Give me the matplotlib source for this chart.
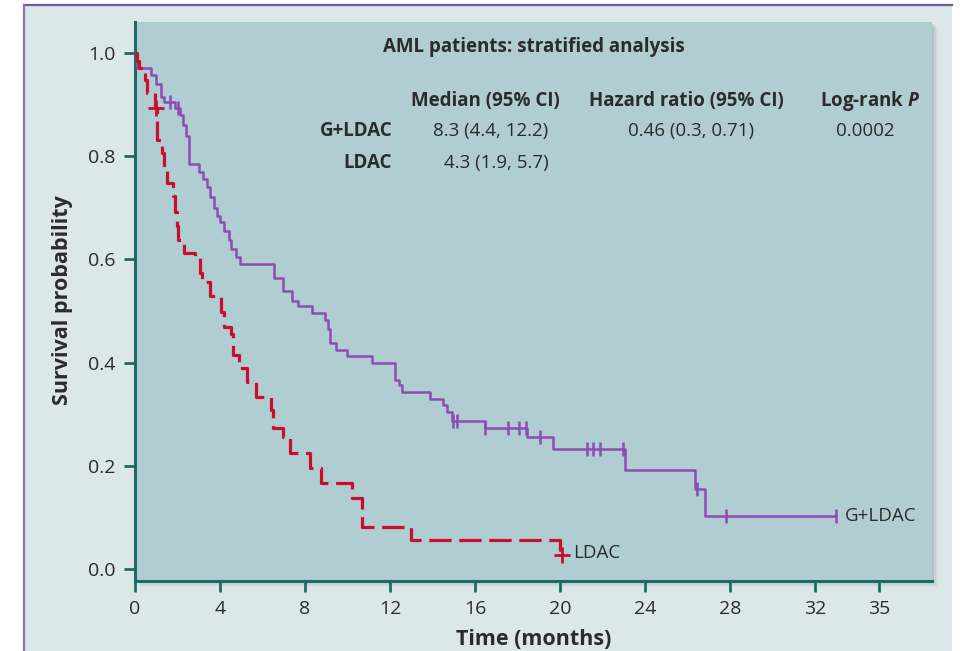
import numpy as np
import matplotlib
matplotlib.use('Agg')
import matplotlib.pyplot as plt
from matplotlib.patches import Rectangle
from matplotlib.lines import Line2D

plt.rcParams['font.family'] = ['Open Sans', 'DejaVu Sans']
plt.rcParams['mathtext.fontset'] = 'custom'
plt.rcParams['mathtext.bfit'] = 'Open Sans:bold:italic'

# G+LDAC Kaplan-Meier steps (time in months, survival after each event)
gldac_t = [0, 0.1, 0.75, 1.0, 1.2, 1.35, 1.9, 2.1, 2.25, 2.4, 2.55, 3.0, 3.2, 3.4,
           3.55, 3.7, 3.85, 4.0, 4.2, 4.4, 4.5, 4.75, 4.95, 6.54, 6.96, 7.39, 7.67,
           8.33, 8.94, 9.08, 9.18, 9.46, 9.98, 11.15, 12.24, 12.4, 12.56, 13.88,
           14.49, 14.68, 14.9, 16.47, 18.45, 19.67, 23.06, 26.35, 26.82]
gldac_s = [1.0, 0.971, 0.957, 0.94, 0.915, 0.905, 0.893, 0.88, 0.86, 0.84, 0.785,
           0.77, 0.755, 0.74, 0.72, 0.70, 0.685, 0.672, 0.655, 0.638, 0.62, 0.605,
           0.591, 0.564, 0.539, 0.519, 0.510, 0.496, 0.483, 0.465, 0.438, 0.424,
           0.413, 0.399, 0.366, 0.357, 0.343, 0.329, 0.318, 0.304, 0.287, 0.273,
           0.256, 0.233, 0.192, 0.155, 0.103]
gldac_end = 33.0
gldac_cens = [1.65, 2.0, 14.95, 15.15, 16.47, 17.55, 18.07, 18.4, 19.06, 21.27,
              21.55, 21.88, 22.96, 26.45, 27.8, 33.0]

# LDAC
ldac_t = [0, 0.09, 0.19, 0.47, 0.56, 0.94, 1.04, 1.27, 1.36, 1.51, 1.79, 1.88,
          1.98, 2.02, 2.31, 2.82, 3.06, 3.15, 3.53, 4.05, 4.19, 4.52, 4.61, 4.89,
          5.27, 5.69, 6.40, 6.49, 6.96, 7.29, 8.24, 8.75, 10.21, 10.68, 12.99, 20.0]
ldac_s = [1.0, 0.985, 0.971, 0.948, 0.922, 0.893, 0.831, 0.806, 0.779, 0.748,
          0.723, 0.692, 0.665, 0.638, 0.612, 0.603, 0.574, 0.556, 0.529, 0.498,
          0.469, 0.455, 0.415, 0.390, 0.362, 0.333, 0.308, 0.273, 0.256, 0.225,
          0.196, 0.167, 0.138, 0.081, 0.056, 0.028]
ldac_end = 20.1
ldac_cens = [1.0, 20.1]

xticks = [0, 4, 8, 12, 16, 20, 24, 28, 32, 35]
yticks = [0.0, 0.2, 0.4, 0.6, 0.8, 1.0]

purple = '#8e4cb3'
red = '#c8102e'
spine = '#1e6b66'
txt = '#2b2b2b'
fs = 13.5

fig = plt.figure(figsize=(9.6, 6.51), dpi=100)
fig.patch.set_facecolor('white')

# outer panel with border on top/left
W, H = 960., 651.
fig.patches.append(Rectangle((24/W, 0), (952-24)/W, 1-5/H, transform=fig.transFigure,
                             facecolor='#dce7e9', edgecolor='none', zorder=-3))
fig.lines.append(Line2D([24/W, 952/W], [1-5/H, 1-5/H], transform=fig.transFigure,
                        color='#6f5b9c', lw=1.6, zorder=-1))
fig.lines.append(Line2D([24/W, 24/W], [0, 1-5/H], transform=fig.transFigure,
                        color='#8a72b5', lw=1.6, zorder=-1))

axl, axb, axw, axh = 135/W, 1-581/H, (932-135)/W, (581-22)/H
# soft shadow behind the plotting area
for k, a in [(6, 0.08), (4, 0.12), (2, 0.18)]:
    fig.patches.append(Rectangle((axl + k/W, axb - k/H), axw, axh, transform=fig.transFigure,
                                 facecolor='#5f7c80', alpha=a, edgecolor='none', zorder=-2))

ax = fig.add_axes([axl, axb, axw, axh])
ax.set_facecolor('#b0cdd1')

def step_xy(t, s, end):
    return list(t) + [end], list(s) + [s[-1]]

def surv_at(t, s, times):
    idx = np.searchsorted(t, times, side='right') - 1
    return np.array(s)[idx]

gx, gy = step_xy(gldac_t, gldac_s, gldac_end)
ax.step(gx, gy, where='post', color=purple, lw=1.8, zorder=3)
ax.plot(gldac_cens, surv_at(gldac_t, gldac_s, gldac_cens), ls='none', marker='|',
        ms=10, mew=1.8, color=purple, zorder=3)

lx, ly = step_xy(ldac_t, ldac_s, ldac_end)
ax.step(lx, ly, where='post', color=red, lw=2.3, ls=(0, (7.0, 2.4)), zorder=4)
ax.plot(ldac_cens, surv_at(ldac_t, ldac_s, ldac_cens), ls='none', marker='+',
        ms=11, mew=2.0, color=red, zorder=4)

ax.text(33.4, 0.103, 'G+LDAC', ha='left', va='center', fontsize=fs, color=txt)
ax.text(20.6, 0.031, 'LDAC', ha='left', va='center', fontsize=fs, color=txt)

# table of results
ax.text(18.75, 1.012, 'AML patients: stratified analysis', ha='center', va='center',
        fontsize=fs, fontweight='bold', color=txt)
ax.text(16.5, 0.907, 'Median (95% CI)', ha='center', va='center', fontsize=fs,
        fontweight='bold', color=txt)
ax.text(25.95, 0.907, 'Hazard ratio (95% CI)', ha='center', va='center', fontsize=fs,
        fontweight='bold', color=txt)
ax.text(34.6, 0.907, 'Log-rank $\\bfit{P}$', ha='center', va='center', fontsize=fs,
        fontweight='bold', color=txt)
ax.text(12.1, 0.849, 'G+LDAC', ha='right', va='center', fontsize=fs, fontweight='bold', color=txt)
ax.text(12.1, 0.787, 'LDAC', ha='right', va='center', fontsize=fs, fontweight='bold', color=txt)
ax.text(19.45, 0.849, '8.3 (4.4, 12.2)', ha='right', va='center', fontsize=fs, color=txt)
ax.text(19.45, 0.787, '4.3 (1.9, 5.7)', ha='right', va='center', fontsize=fs, color=txt)
ax.text(26.15, 0.849, '0.46 (0.3, 0.71)', ha='center', va='center', fontsize=fs, color=txt)
ax.text(34.35, 0.849, '0.0002', ha='center', va='center', fontsize=fs, color=txt)

ax.set_xlim(0, 37.5)
ax.set_ylim(-0.023, 1.06)
ax.set_xticks(xticks)
ax.set_xticklabels([str(v) for v in xticks])
ax.set_yticks(yticks)
ax.set_yticklabels(['%.1f' % v for v in yticks])
ax.tick_params(axis='both', direction='out', length=8, width=2, color=spine,
               labelsize=14, labelcolor=txt, pad=6)

for side in ['top', 'right']:
    ax.spines[side].set_visible(False)
for side in ['left', 'bottom']:
    ax.spines[side].set_color(spine)
    ax.spines[side].set_linewidth(2.2)

ax.set_xlabel('Time (months)', fontsize=15.5, fontweight='bold', color=txt)
ax.set_ylabel('Survival probability', fontsize=15.5, fontweight='bold', color=txt)
ax.xaxis.set_label_coords(0.5, -0.085)
ax.yaxis.set_label_coords(-0.078, 0.503)

fig.savefig('out.png', dpi=100)
